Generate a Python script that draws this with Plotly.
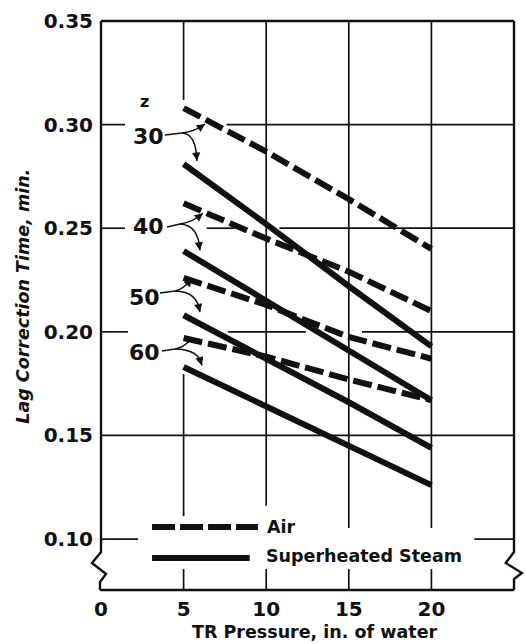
import plotly.graph_objects as go

# ---------------- data ----------------
pressure = [5, 10, 15, 20]
z_values = [30, 40, 50, 60]
air_30 = [0.308, 0.287, 0.264, 0.240]
air_40 = [0.262, 0.245, 0.229, 0.210]
air_50 = [0.226, 0.213, 0.1975, 0.187]
air_60 = [0.197, 0.188, 0.177, 0.167]
steam_30 = [0.281, 0.252, 0.222, 0.193]
steam_40 = [0.239, 0.215, 0.191, 0.167]
steam_50 = [0.208, 0.187, 0.166, 0.144]
steam_60 = [0.183, 0.164, 0.145, 0.126]
x_ticks = [0, 5, 10, 15, 20, 25]
y_ticks = [0.10, 0.15, 0.20, 0.25, 0.30, 0.35]
y_tick_text = ["0.10", "0.15", "0.20", "0.25", "0.30", "0.35"]

air = [air_30, air_40, air_50, air_60]
steam = [steam_30, steam_40, steam_50, steam_60]

X_RANGE = [0, 25]
Y_RANGE = [0.0754, 0.35]
INK = "#111111"
TICK_FONT = dict(family="DejaVu Sans", size=20, color=INK, weight="bold")

fig = go.Figure()
for vals in air:
    fig.add_trace(go.Scatter(x=pressure, y=vals, mode="lines", showlegend=False,
                             line=dict(color=INK, width=6, dash="19px,6px")))
for vals in steam:
    fig.add_trace(go.Scatter(x=pressure, y=vals, mode="lines", showlegend=False,
                             line=dict(color=INK, width=6)))

shapes = []
GRID = dict(color=INK, width=1.7)
# horizontal grid segments (interrupted like the original drawing)
h_segments = {
    0.30: [(0, 1.45), (7.6, 25)],
    0.25: [(0, 1.45), (6.4, 8.1), (10.8, 25)],
    0.20: [(0, 1.63), (7.7, 12.4), (15.8, 25)],
    0.15: [(0, 25)],
    0.10: [(0, 2.24), (22.6, 25)],
}
for yv, segs in h_segments.items():
    for a, b in segs:
        shapes.append(dict(type="line", xref="x", yref="y", x0=a, x1=b, y0=yv, y1=yv,
                           line=GRID, layer="below"))
# vertical grid segments
v_segments = {
    5: [(0.3119, 0.35), (0.111, 0.1796), (Y_RANGE[0], 0.0855)],
    10: [(0.116, 0.35), (Y_RANGE[0], 0.0855)],
    15: [(0.1053, 0.35), (Y_RANGE[0], 0.0855)],
    20: [(0.1053, 0.35), (Y_RANGE[0], 0.0855)],
}
for xv, segs in v_segments.items():
    for a, b in segs:
        shapes.append(dict(type="line", xref="x", yref="y", x0=xv, x1=xv, y0=a, y1=b,
                           line=GRID, layer="below"))

BORDER = dict(color=INK, width=2.4)
# top and bottom frame
shapes.append(dict(type="line", xref="paper", yref="paper", x0=0, x1=1, y0=1, y1=1, line=BORDER))
shapes.append(dict(type="line", xref="paper", yref="paper", x0=-0.0024, x1=1, y0=0, y1=0, line=BORDER))
# left and right frame with axis-break zigzags
shapes.append(dict(type="path", xref="paper", yref="paper", line=BORDER,
                   path="M 0 1 L 0 0.0668 L -0.0218 0.0475 L 0.0121 0.0281 L -0.0024 0.0141 L -0.0024 0"))
shapes.append(dict(type="path", xref="paper", yref="paper", line=BORDER,
                   path="M 1 1 L 1 0.0668 L 0.980 0.0475 L 1.019 0.0299 L 1 0.0193 L 1 0"))

# legend samples
shapes.append(dict(type="line", xref="x", yref="y", x0=3.09, x1=9.5, y0=0.1058, y1=0.1058,
                   line=dict(color=INK, width=6, dash="23px,5px")))
shapes.append(dict(type="line", xref="x", yref="y", x0=3.09, x1=9.0, y0=0.0908, y1=0.0908,
                   line=dict(color=INK, width=6)))

annotations = []
# z labels with forked arrows to the air and steam curves
label_layout = {
    30: dict(pos=(2.85, 0.2945), start=(3.87, 0.295), split=(4.9, 0.296),
             air=(6.3, 0.3003), air_c=(5.7, 0.2966), steam=(5.81, 0.2825), steam_c=(5.75, 0.2958)),
    40: dict(pos=(2.85, 0.2506), start=(4.0, 0.2506), split=(4.78, 0.252),
             air=(6.17, 0.2572), air_c=(5.55, 0.2528), steam=(5.99, 0.2393), steam_c=(5.9, 0.2515)),
    50: dict(pos=(2.66, 0.2168), start=(3.57, 0.2187), split=(4.48, 0.2197),
             air=(5.51, 0.2258), air_c=(5.0, 0.2205), steam=(5.99, 0.2095), steam_c=(5.85, 0.2195)),
    60: dict(pos=(2.66, 0.1898), start=(3.69, 0.1907), split=(4.48, 0.1917),
             air=(5.39, 0.1958), air_c=(4.95, 0.1923), steam=(6.11, 0.1838), steam_c=(5.95, 0.1915)),
}


def qpoint(p0, c, p1, t):
    return ((1 - t) ** 2 * p0[0] + 2 * (1 - t) * t * c[0] + t ** 2 * p1[0],
            (1 - t) ** 2 * p0[1] + 2 * (1 - t) * t * c[1] + t ** 2 * p1[1])


ARROW = dict(color=INK, width=1.5)
for z in z_values:
    L = label_layout[z]
    annotations.append(dict(x=L["pos"][0], y=L["pos"][1], xref="x", yref="y", text=str(z),
                            showarrow=False, xanchor="center", yanchor="middle",
                            font=dict(family="DejaVu Sans", size=22, color=INK, weight="bold")))
    s, m = L["start"], L["split"]
    shapes.append(dict(type="path", xref="x", yref="y", line=ARROW,
                       path=f"M {s[0]} {s[1]} L {m[0]} {m[1]}"))
    for tip_key, c_key in (("air", "air_c"), ("steam", "steam_c")):
        tip, c = L[tip_key], L[c_key]
        shapes.append(dict(type="path", xref="x", yref="y", line=ARROW,
                           path=f"M {m[0]} {m[1]} Q {c[0]} {c[1]} {tip[0]} {tip[1]}"))
        back = qpoint(m, c, tip, 0.8)
        annotations.append(dict(x=tip[0], y=tip[1], ax=back[0], ay=back[1], xref="x", yref="y",
                                axref="x", ayref="y", text="", showarrow=True, arrowhead=2,
                                arrowsize=1.1, arrowwidth=1.5, arrowcolor=INK, standoff=0))

annotations.append(dict(x=2.66, y=0.311, xref="x", yref="y", text="z", showarrow=False,
                        xanchor="center", yanchor="middle",
                        font=dict(family="DejaVu Sans", size=16, color=INK, weight="bold")))
# legend text
annotations.append(dict(x=9.93, y=0.1058, xref="x", yref="y", text="Air", showarrow=False,
                        xanchor="left", yanchor="middle",
                        font=dict(family="DejaVu Sans", size=17.5, color=INK, weight="bold")))
annotations.append(dict(x=9.88, y=0.0918, xref="x", yref="y", text="Superheated Steam", showarrow=False,
                        xanchor="left", yanchor="middle",
                        font=dict(family="DejaVu Sans", size=17.5, color=INK, weight="bold")))
# axis titles
annotations.append(dict(x=0.518, y=-0.0738, xref="paper", yref="paper", text="TR Pressure, in. of water",
                        showarrow=False, xanchor="center", yanchor="middle",
                        font=dict(family="DejaVu Sans", size=17.5, color=INK, weight="bold")))
annotations.append(dict(x=-0.189, y=0.517, xref="paper", yref="paper", text="Lag Correction Time, min.",
                        showarrow=False, textangle=-90, xanchor="center", yanchor="middle",
                        font=dict(family="DejaVu Sans", size=17.5, color=INK, weight="bold", style="italic")))

fig.update_layout(
    width=526, height=644,
    margin=dict(l=101, r=12, t=21, b=54, autoexpand=False),
    paper_bgcolor="white", plot_bgcolor="white",
    showlegend=False,
    shapes=shapes, annotations=annotations,
    xaxis=dict(range=X_RANGE, tickvals=x_ticks, ticktext=[str(v) for v in x_ticks],
               showgrid=False, zeroline=False, showline=False, ticks="", tickfont=TICK_FONT,
               ticklabelstandoff=5, automargin=False, fixedrange=True),
    yaxis=dict(range=Y_RANGE, tickvals=y_ticks, ticktext=y_tick_text,
               showgrid=False, zeroline=False, showline=False, ticks="", tickfont=TICK_FONT,
               ticklabelstandoff=7, automargin=False, fixedrange=True),
)

fig.write_html("out.html")
